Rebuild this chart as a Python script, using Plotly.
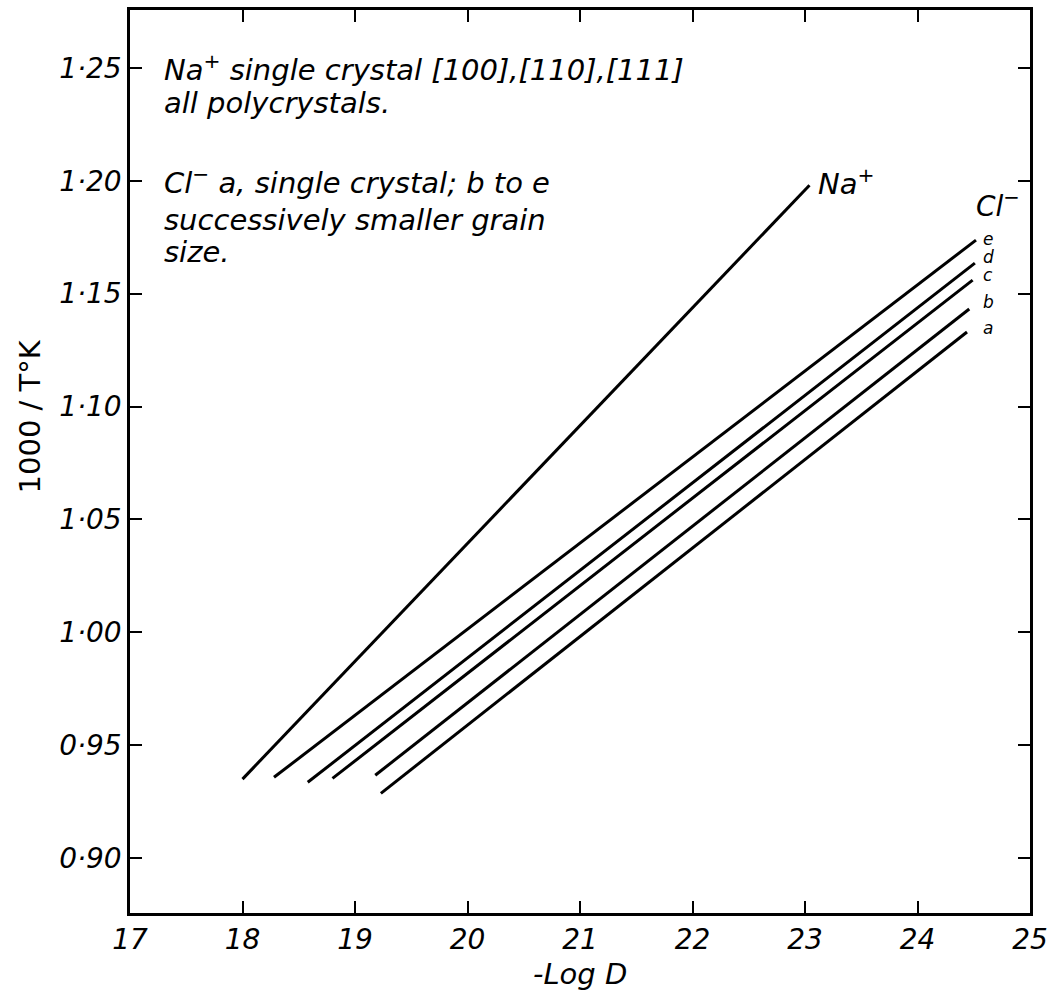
import plotly.graph_objects as go

# Data: line endpoints (-Log D, 1000/T)
na_x = [18.0, 23.04]
na_y = [0.935, 1.198]

cl_names = ["e", "d", "c", "b", "a"]
cl_x_start = [18.28, 18.58, 18.80, 19.18, 19.23]
cl_y_start = [0.9358, 0.9336, 0.9353, 0.9367, 0.9287]
cl_x_end = [24.52, 24.51, 24.49, 24.46, 24.44]
cl_y_end = [1.1737, 1.1635, 1.156, 1.1432, 1.133]
cl_label_y = [1.1740, 1.1660, 1.1584, 1.1464, 1.1348]

x_ticks = [17, 18, 19, 20, 21, 22, 23, 24, 25]
y_ticks = [0.90, 0.95, 1.00, 1.05, 1.10, 1.15, 1.20, 1.25]
y_tick_text = ["0·90", "0·95", "1·00", "1·05", "1·10", "1·15", "1·20", "1·25"]

note_lines = [
    "Na<sup>+</sup> single crystal [100],[110],[111]",
    "all polycrystals.",
    "Cl<sup>−</sup> a, single crystal; b to e",
    "successively smaller grain",
    "size.",
]
note_y = [1.25, 1.2346, 1.20, 1.1825, 1.1684]

FONT = "DejaVu Sans"
fig = go.Figure()

fig.add_trace(go.Scatter(x=na_x, y=na_y, mode="lines",
                         line=dict(color="black", width=3), showlegend=False))
for i, n in enumerate(cl_names):
    fig.add_trace(go.Scatter(x=[cl_x_start[i], cl_x_end[i]],
                             y=[cl_y_start[i], cl_y_end[i]], mode="lines",
                             line=dict(color="black", width=3), showlegend=False))

ann = []
for t, yy in zip(note_lines, note_y):
    ann.append(dict(x=17.28, y=yy, xref="x", yref="y", text=t, showarrow=False,
                    xanchor="left", yanchor="middle",
                    font=dict(family=FONT, size=29, style="italic", color="black")))
ann.append(dict(x=23.1, y=1.1993, text="Na<sup>+</sup>", showarrow=False,
                xanchor="left", yanchor="middle",
                font=dict(family=FONT, size=29, style="italic", color="black")))
ann.append(dict(x=24.5, y=1.1895, text="Cl<sup>−</sup>", showarrow=False,
                xanchor="left", yanchor="middle",
                font=dict(family=FONT, size=28, style="italic", color="black")))
for n, ly in zip(cl_names, cl_label_y):
    ann.append(dict(x=24.56, y=ly, text=n, showarrow=False, xanchor="left",
                    yanchor="middle",
                    font=dict(family=FONT, size=17, style="italic", color="black")))
ann.append(dict(x=-0.111, y=0.55, xref="paper", yref="paper", text="1000 / T°K",
                textangle=-90, showarrow=False, xanchor="center", yanchor="middle",
                font=dict(family=FONT, size=29, color="black")))
ann.append(dict(x=0.5, y=-0.068, xref="paper", yref="paper", text="-Log D",
                showarrow=False, yanchor="middle",
                font=dict(family=FONT, size=29, style="italic", color="black")))

fig.update_layout(
    width=1057, height=1001,
    margin=dict(l=130, r=27, t=7, b=88),
    plot_bgcolor="white", paper_bgcolor="white",
    annotations=ann,
    xaxis=dict(range=[17, 25], tickvals=x_ticks, ticktext=[str(v) for v in x_ticks],
               ticks="inside", ticklen=12, tickwidth=2, tickcolor="black",
               showline=True, linewidth=2.5, linecolor="black", mirror="ticks",
               showgrid=False, zeroline=False,
               tickfont=dict(family=FONT, size=28, style="italic", color="black")),
    yaxis=dict(range=[0.8757, 1.2756], tickvals=y_ticks, ticktext=y_tick_text,
               ticks="inside", ticklen=12, tickwidth=2, tickcolor="black",
               showline=True, linewidth=2.5, linecolor="black", mirror="ticks",
               showgrid=False, zeroline=False,
               tickfont=dict(family=FONT, size=28, style="italic", color="black")),
)

fig.write_html("out.html", config={"displayModeBar": False},
               post_script="document.body.style.margin='0px';")
